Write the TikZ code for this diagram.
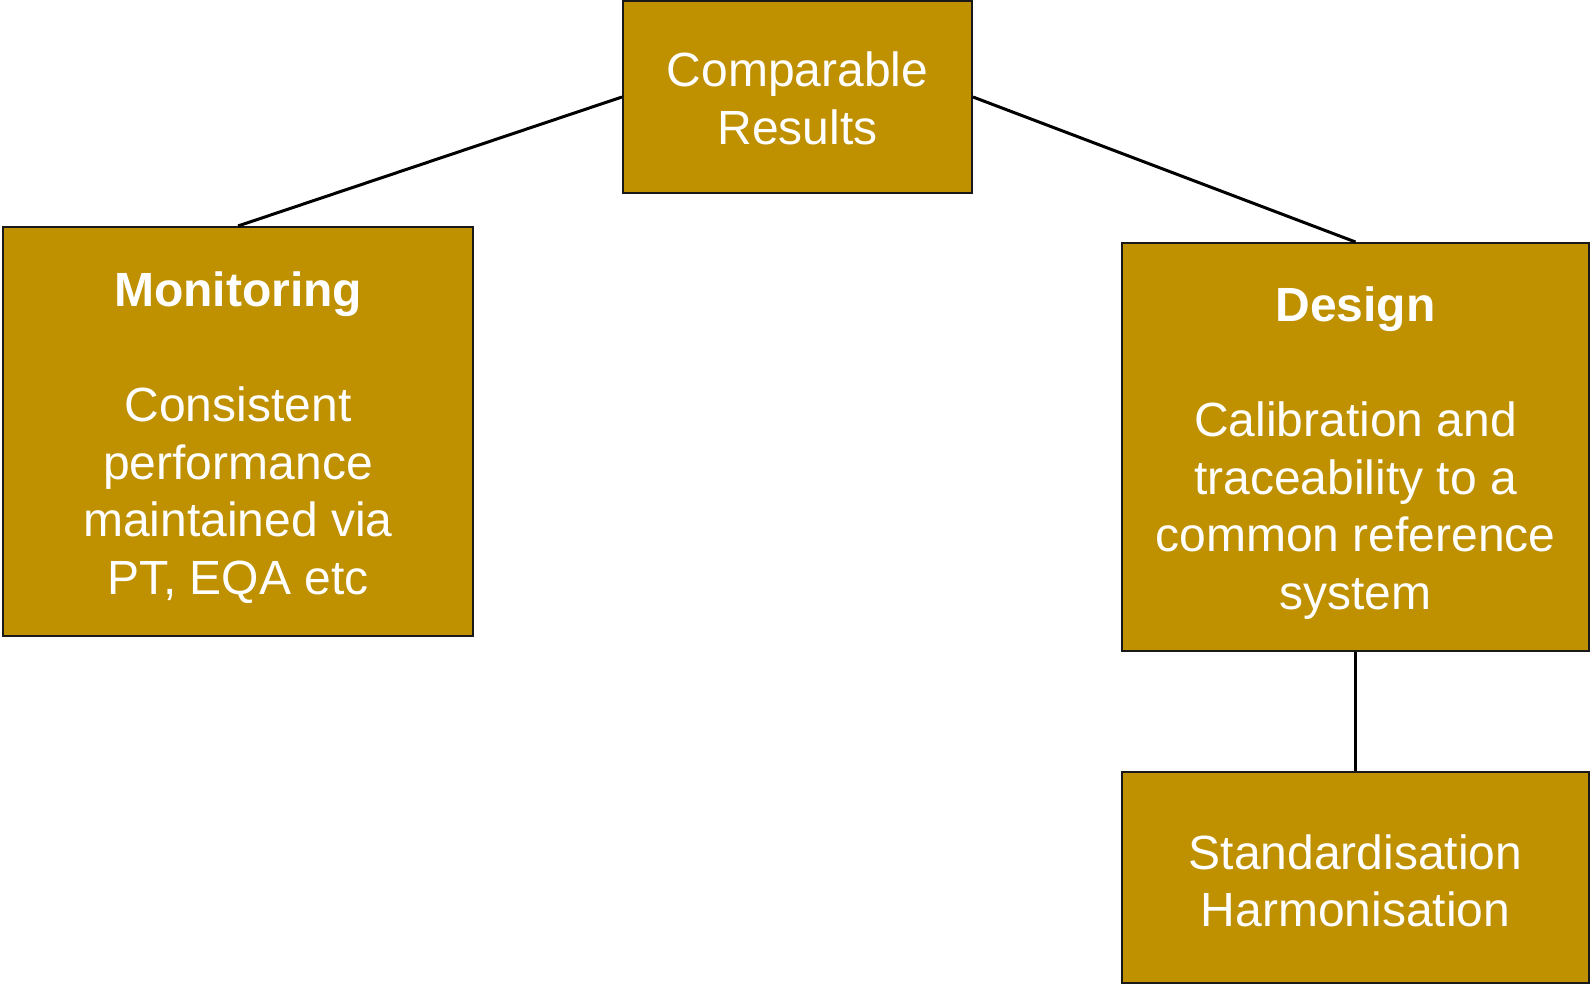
\documentclass[tikz,border=0pt]{standalone}
\usepackage{fontspec}
\setmainfont{Liberation Sans}
\definecolor{boxgold}{RGB}{191,144,0}
% invisible strut that adds room above the first line of a box
\newcommand{\topgap}[1]{\rule{0pt}{#1}}
\begin{document}
\begin{tikzpicture}[x=1pt,y=-1pt,
  box/.style={draw=black!90, line width=2pt, fill=boxgold, text=white,
    align=center, inner sep=0pt, font=\fontsize{48}{57.5}\selectfont},
  link/.style={draw=black, line width=3pt}]
\useasboundingbox (0,0) rectangle (1591,984);

% boxes
\node[box, minimum width=349pt, minimum height=192pt] (top) at (797.5,97)
  {\topgap{37pt}Comparable\\Results};
\node[box, minimum width=470pt, minimum height=409pt] (mon) at (238,431.5)
  {\topgap{47pt}\textbf{Monitoring}\\[57.5pt]Consistent\\performance\\maintained via\\PT, EQA etc};
\node[box, minimum width=467pt, minimum height=408pt] (des) at (1355.5,447)
  {\topgap{47pt}\textbf{Design}\\[57.5pt]Calibration and\\traceability to a\\common reference\\system};
\node[box, minimum width=467pt, minimum height=211pt] (std) at (1355.5,877.5)
  {\topgap{41pt}Standardisation\\Harmonisation};

% connectors
\draw[link] (top.west) -- (mon.north);
\draw[link] (top.east) -- (des.north);
\draw[link] (des.south) -- (std.north);
\end{tikzpicture}
\end{document}
